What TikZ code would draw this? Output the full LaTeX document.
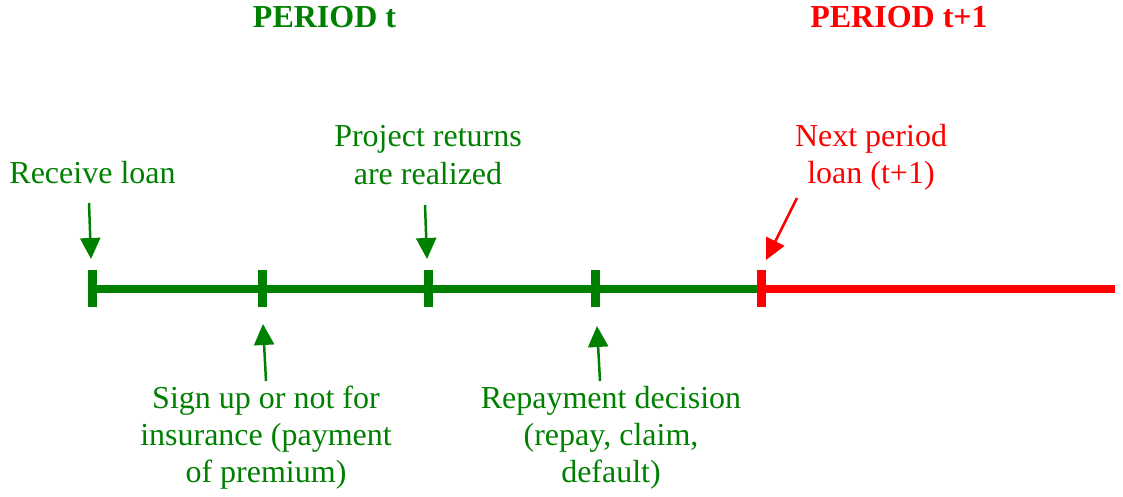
\documentclass[tikz,border=0pt]{standalone}
\usepackage{fontspec}
\setmainfont{Liberation Serif}
\usetikzlibrary{arrows.meta}
\definecolor{dgreen}{RGB}{0,128,0}
\definecolor{bred}{RGB}{255,0,0}
\begin{document}
\begin{tikzpicture}[x=1pt,y=-1pt,
  lbl/.style={align=center,inner sep=0pt,anchor=base,font=\fontsize{32}{37}\selectfont},
  ttl/.style={inner sep=0pt,anchor=base,font=\fontsize{32}{37}\selectfont\bfseries},
  tline/.style={line width=8pt},
  tickmark/.style={line width=9pt},
  pointer/.style={line width=2.5pt,-{Triangle[length=21pt,width=20pt]}}]
\useasboundingbox (0,0) rectangle (1123,497);
% timeline points
\coordinate (t0) at (92.5,288.5);
\coordinate (t1) at (262.5,288.5);
\coordinate (t2) at (428,288.5);
\coordinate (t3) at (595,288.5);
\coordinate (t4) at (761.5,288.5);
\coordinate (tend) at (1115,288.5);
\draw[tline,dgreen] (t0) -- (t4);
\draw[tline,bred] (t4) -- (tend);
\foreach \p in {t0,t1,t2,t3}{
  \draw[tickmark,dgreen] ([yshift=-18.5pt]\p) -- ([yshift=18.5pt]\p);
}
\draw[tickmark,bred] ([yshift=-18.5pt]t4) -- ([yshift=18.5pt]t4);
% titles
\node[ttl,text=dgreen] (pt) at (324.5,28) {PERIOD t};
\node[ttl,text=bred] (pt1) at (899,28) {PERIOD t+1};
% labels (anchor base = baseline of the last line)
\node[lbl,text=dgreen] (recv) at (92.5,183) {Receive loan};
\node[lbl,text=dgreen] (proj) at (428,184) {Project returns\\are realized};
\node[lbl,text=bred] (next) at (871,183) {Next period\\loan (t+1)};
\node[lbl,text=dgreen] (sign) at (266,482) {Sign up or not for\\insurance (payment\\of premium)};
\node[lbl,text=dgreen] (repay) at (611,482) {Repayment decision\\(repay, claim,\\default)};
% arrow ends
\coordinate (a0s) at (89,203);   \coordinate (a0e) at (91,259);
\coordinate (a1s) at (266,381);  \coordinate (a1e) at (263,324);
\coordinate (a2s) at (425,205);  \coordinate (a2e) at (427,259);
\coordinate (a3s) at (600,381);  \coordinate (a3e) at (597,326);
\coordinate (a4s) at (797,198);  \coordinate (a4e) at (766,260);
\draw[pointer,dgreen] (a0s) -- (a0e);
\draw[pointer,dgreen] (a1s) -- (a1e);
\draw[pointer,dgreen] (a2s) -- (a2e);
\draw[pointer,dgreen] (a3s) -- (a3e);
\draw[pointer,bred] (a4s) -- (a4e);
\end{tikzpicture}
\end{document}
